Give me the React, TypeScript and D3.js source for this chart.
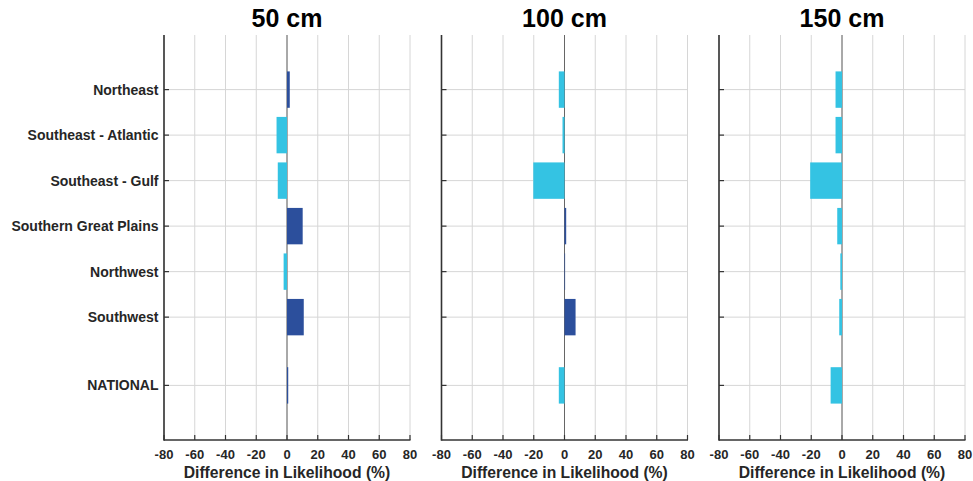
import React from "react";
import * as d3 from "d3";

const categories = [
  "Northeast",
  "Southeast - Atlantic",
  "Southeast - Gulf",
  "Southern Great Plains",
  "Northwest",
  "Southwest",
  "NATIONAL",
];
const categoryPos = [1, 2, 3, 4, 5, 6, 7.5];
const panelTitles = ["50 cm", "100 cm", "150 cm"];
const values50 = [1.8, -6.8, -6.0, 10.2, -2.2, 10.9, 0.8];
const values100 = [-3.7, -1.3, -20.3, 1.1, 0.2, 7.2, -3.7];
const values150 = [-4.2, -4.2, -20.7, -3.1, -1.1, -1.8, -7.4];
const xTicks = [-80, -60, -40, -20, 0, 20, 40, 60, 80];
const seriesList = [values50, values100, values150];

const W = 973;
const H = 481;
const panelX = [164, 441.5, 719];
const panelW = 246;
const top = 35;
const bottom = 440;
const DARK = "#2c4f9c";
const LIGHT = "#34c3e3";
const FONT = "Liberation Sans, Arial, Helvetica, sans-serif";

export default function App() {
  const y = d3.scaleLinear().domain([-0.2, 8.7]).range([top, bottom]);
  const bandH = y(0.8) - y(0);
  return (
    <svg width={W} height={H} style={{ position: "absolute", left: 0, top: 0, background: "#fff" }} fontFamily={FONT}>
      <rect x={0} y={0} width={W} height={H} fill="#fff" />
      {seriesList.map((vals, pi) => {
        const x = d3.scaleLinear().domain([-80, 80]).range([panelX[pi], panelX[pi] + panelW]);
        const x0 = x(0);
        return (
          <g key={pi}>
            {xTicks.map((t) => (
              <line key={"gv" + t} x1={x(t)} x2={x(t)} y1={top} y2={bottom} stroke="#d6d6d6" strokeWidth={1} />
            ))}
            {categoryPos.map((p, i) => (
              <line key={"gh" + i} x1={x(-80)} x2={x(80)} y1={y(p)} y2={y(p)} stroke="#d6d6d6" strokeWidth={1} />
            ))}
            <line x1={x0} x2={x0} y1={top} y2={bottom} stroke="#666" strokeWidth={1} />
            {vals.map((v, i) => (
              <rect
                key={"b" + i}
                x={Math.min(x(v), x0)}
                y={y(categoryPos[i]) - bandH / 2}
                width={Math.max(Math.abs(x(v) - x0), 0.6)}
                height={bandH}
                fill={v >= 0 ? DARK : LIGHT}
              />
            ))}
            <line x1={x(-80)} x2={x(-80)} y1={top} y2={bottom + 0.75} stroke="#333" strokeWidth={1.6} />
            <line x1={x(-80)} x2={x(80) + 0.5} y1={bottom} y2={bottom} stroke="#333" strokeWidth={1.6} />
            {categoryPos.map((p, i) => (
              <line key={"yt" + i} x1={x(-80)} x2={x(-80) + 5} y1={y(p)} y2={y(p)} stroke="#333" strokeWidth={1.2} />
            ))}
            {xTicks.map((t) => (
              <line key={"xt" + t} x1={x(t)} x2={x(t)} y1={bottom} y2={bottom - 5} stroke="#333" strokeWidth={1.2} />
            ))}
            {xTicks.map((t) => (
              <text key={"xl" + t} x={x(t)} y={458.5} textAnchor="middle" fontSize={13} fontWeight="bold" fill="#262626">
                {t}
              </text>
            ))}
            <text x={x(0)} y={478} textAnchor="middle" fontSize={15.7} fontWeight="bold" fill="#262626">
              Difference in Likelihood (%)
            </text>
            <text x={x(0)} y={27} textAnchor="middle" fontSize={25} fontWeight="bold" fill="#000">
              {panelTitles[pi]}
            </text>
          </g>
        );
      })}
      {categories.map((c, i) => (
        <text key={"cl" + i} x={158.5} y={y(categoryPos[i])} dy="0.35em" textAnchor="end" fontSize={14} fontWeight="bold" fill="#262626">
          {c}
        </text>
      ))}
    </svg>
  );
}
